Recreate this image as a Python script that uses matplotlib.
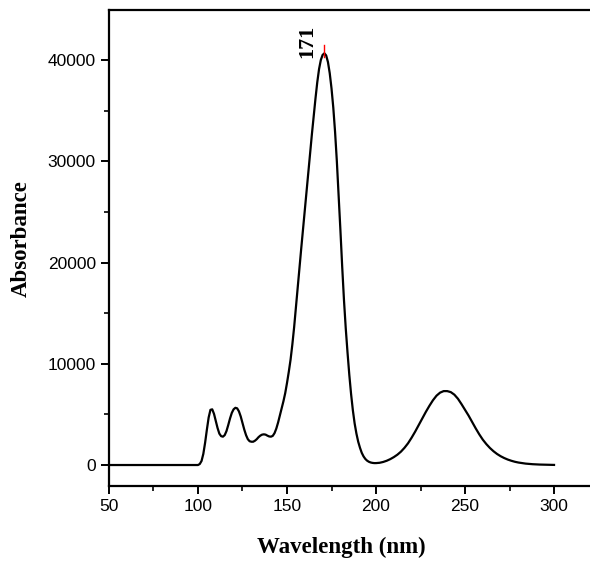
"""UV absorbance spectrum with the main peak marked at 171 nm."""

import matplotlib
matplotlib.use("Agg")
import matplotlib.pyplot as plt
from matplotlib.ticker import MultipleLocator

# wavelength (nm) and absorbance
wavelength = [50, 100, 101, 102, 103, 104, 105, 106, 107, 108, 109, 110, 111, 112, 113, 114,
              115, 116, 117, 118, 119, 120, 121, 122, 123, 124, 125, 126, 127, 128, 129, 130,
              131, 132, 133, 134, 135, 136, 137, 138, 139, 140, 141, 142, 143, 144, 145, 146,
              147, 148, 149, 150, 151, 152, 153, 154, 155, 156, 157, 158, 159, 160, 161, 162,
              163, 164, 165, 166, 167, 168, 169, 170, 171, 172, 173, 174, 175, 176, 177, 178,
              179, 180, 181, 182, 183, 184, 185, 186, 187, 188, 189, 190, 191, 192, 193, 194,
              195, 196, 197, 198, 199, 200, 202, 204, 206, 208, 210, 212, 214, 216, 218, 220,
              222, 224, 226, 228, 230, 232, 234, 236, 238, 240, 242, 244, 246, 248, 250, 252,
              254, 256, 258, 260, 262, 264, 266, 268, 270, 272, 274, 276, 278, 280, 284, 288,
              292, 296, 300]
absorbance = [0, 0, 100, 400, 1100, 2200, 3500, 4700, 5450, 5500, 5050, 4350, 3650, 3100, 2850, 2800,
              2950, 3350, 3950, 4600, 5150, 5500, 5650, 5600, 5300, 4800, 4150, 3500, 2950, 2550, 2350, 2300,
              2300, 2400, 2550, 2750, 2900, 3000, 3030, 3000, 2900, 2820, 2800, 2880, 3150, 3600, 4200, 4900,
              5600, 6300, 7100, 8100, 9200, 10400, 11900, 13600, 15500, 17500, 19500, 21400, 23300, 25200, 27100, 29000,
              30900, 32700, 34500, 36200, 37800, 39100, 40000, 40500, 40660, 40450, 39800, 38700, 37200, 35300, 32900, 30000,
              26700, 23200, 19600, 16300, 13500, 11100, 8900, 7000, 5400, 4100, 3100, 2300, 1700, 1200, 850, 600,
              430, 320, 250, 210, 190, 190, 220, 300, 420, 580, 780, 1020, 1320, 1700, 2150, 2700,
              3300, 3950, 4600, 5250, 5850, 6400, 6850, 7150, 7300, 7300, 7200, 6950, 6550, 6020, 5450, 4880,
              4250, 3620, 3030, 2500, 2060, 1680, 1360, 1090, 870, 690, 540, 420, 320, 245, 140, 80,
              45, 25, 10]

peak_wl = 171
peak_abs = 40660
peak_label = "171"

fig = plt.figure(figsize=(5.9, 5.62), dpi=100)
ax = fig.add_axes([0.1847, 0.1352, 0.8153, 0.847])

ax.plot(wavelength, absorbance, color="black", linewidth=1.6)

# red marker and label at the main peak
ax.plot([peak_wl, peak_wl], [peak_abs - 400, peak_abs + 800], color="red", linewidth=1.0)
ax.text(peak_wl - 9.5, peak_abs - 500, peak_label, rotation=90, ha="center", va="bottom",
        fontsize=16, fontweight="bold", family="Liberation Serif")

ax.set_xlim(50, 320.2)
ax.set_ylim(-2074, 44938)
ax.xaxis.set_major_locator(MultipleLocator(50))
ax.xaxis.set_minor_locator(MultipleLocator(25))
ax.yaxis.set_major_locator(MultipleLocator(10000))
ax.yaxis.set_minor_locator(MultipleLocator(5000))

for side in ["left", "bottom", "top"]:
    ax.spines[side].set_linewidth(1.6)
ax.spines["right"].set_visible(False)

ax.tick_params(which="major", direction="out", length=6, width=1.4, labelsize=12.5,
               top=False, right=False)
ax.tick_params(which="minor", direction="out", length=3.5, width=1.2, top=False, right=False)
for lab in ax.get_xticklabels() + ax.get_yticklabels():
    lab.set_family("Liberation Sans")

ax.set_xlabel("Wavelength (nm)", fontsize=16.5, fontweight="bold", family="Liberation Serif")
ax.set_ylabel("Absorbance", fontsize=16.5, fontweight="bold", family="Liberation Serif")
ax.xaxis.set_label_coords(0.482, -0.106)
ax.yaxis.set_label_coords(-0.16, 0.519)

fig.savefig("out.png", dpi=100)
